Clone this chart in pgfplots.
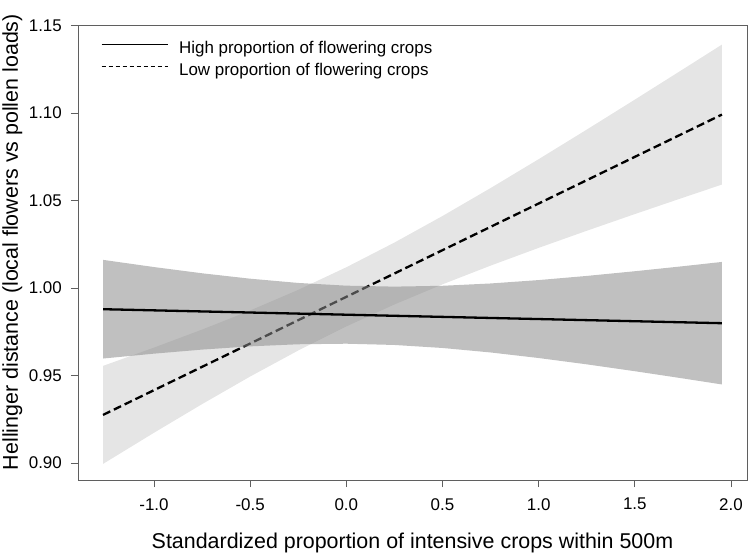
\documentclass[border=0pt]{standalone}
\usepackage{pgfplots}
\pgfplotsset{compat=1.18}
\usepackage{fontspec}
\setmainfont{Liberation Sans}
\definecolor{frame}{RGB}{95,95,95}
\definecolor{lightband}{RGB}{229,229,229}
\definecolor{darkband}{RGB}{140,140,140}
\begin{document}
\begin{tikzpicture}
\begin{axis}[
  scale only axis,
  width=669bp, height=455bp,
  xmin=-1.3952, xmax=2.0832,
  ymin=0.8903, ymax=1.1503,
  xtick={-1,-0.5,0,0.5,1,1.5,2},
  ytick={0.90,0.95,1.00,1.05,1.10,1.15},
  xtick pos=left, ytick pos=left,
  tick align=outside,
  major tick length=7bp,
  axis line style={draw=frame, line width=0.9bp},
  every tick/.style={draw=frame, line width=0.9bp},
  /pgf/number format/assume math mode=true,
  xticklabel style={/pgf/number format/.cd, fixed, fixed zerofill, precision=1, /tikz/.cd, font=\fontsize{17}{20}\selectfont, inner sep=0pt, anchor=north, yshift=-11bp},
  yticklabel style={/pgf/number format/.cd, fixed, fixed zerofill, precision=2, /tikz/.cd, font=\fontsize{17}{20}\selectfont, inner sep=0pt, anchor=east, xshift=-9bp},
  xlabel={Standardized proportion of intensive crops within 500m},
  ylabel={Hellinger distance (local flowers vs pollen loads)},
  xlabel style={font=\fontsize{21.5}{25}\selectfont, at={(axis description cs:0.5,-0.1495)}, anchor=base},
  ylabel style={font=\fontsize{21.5}{25}\selectfont, at={(axis description cs:-0.0897,0.523)}, anchor=base},
  legend style={at={(axis description cs:0.0344,0.9648)}, anchor=north west, draw=none, fill=none, inner sep=0pt,
    font=\fontsize{17}{20}\selectfont,
    nodes={inner sep=0pt, text height=12bp, text depth=4bp},
    row sep=6bp, column sep=11bp},
  legend cell align=left,
  legend image code/.code={\draw[#1] (0bp,5bp) -- (66bp,5bp);},
]
\addlegendimage{black, line width=0.9bp}
\addlegendentry{High proportion of flowering crops}
\addlegendimage{black, line width=0.9bp, dash pattern=on 4bp off 3bp}
\addlegendentry{Low proportion of flowering crops}

% Low proportion: confidence band
\addplot[forget plot, draw=none, fill=lightband] coordinates {
(-1.265,0.95550) (-1.0,0.96596) (-0.75,0.97625) (-0.5,0.98716) (-0.25,0.99895)
(0,1.01186) (0.25,1.02597) (0.5,1.04115) (0.75,1.05712) (1.0,1.07363)
(1.25,1.09052) (1.5,1.10766) (1.75,1.12497) (1.953,1.13911)
(1.953,1.05913) (1.75,1.05161) (1.5,1.04226) (1.25,1.03272) (1.0,1.02295)
(0.75,1.01280) (0.5,1.00211) (0.25,0.99061) (0,0.97806) (-0.25,0.96431)
(-0.5,0.94944) (-0.75,0.93367) (-1.0,0.91730) (-1.265,0.89950)
} -- cycle;
% Low proportion: fit
\addplot[forget plot, black, line width=2.3bp, dash pattern=on 8bp off 4bp] coordinates {
(-1.265,0.92750) (1.953,1.09912)
};
% High proportion: confidence band
\addplot[forget plot, draw=none, fill=darkband, fill opacity=0.55] coordinates {
(-1.265,1.01609) (-1.0,1.01198) (-0.75,1.00842) (-0.5,1.00533) (-0.25,1.00290)
(0,1.00134) (0.25,1.00080) (0.5,1.00128) (0.75,1.00260) (1.0,1.00454)
(1.25,1.00691) (1.5,1.00959) (1.75,1.01246) (1.953,1.01491)
(1.953,0.94489) (1.75,0.94834) (1.5,0.95247) (1.25,0.95639) (1.0,0.96000)
(0.75,0.96318) (0.5,0.96574) (0.25,0.96746) (0,0.96818) (-0.25,0.96786)
(-0.5,0.96667) (-0.75,0.96482) (-1.0,0.96250) (-1.265,0.95971)
} -- cycle;
% High proportion: fit
\addplot[forget plot, black, line width=2.3bp] coordinates {
(-1.265,0.98790) (1.953,0.97990)
};
\coordinate (bl) at (rel axis cs:0,0);
\coordinate (tr) at (rel axis cs:1,1);
\end{axis}
\pgfresetboundingbox
\path ([xshift=-78bp,yshift=-75bp]bl) rectangle ([xshift=3bp,yshift=25bp]tr);
\end{tikzpicture}
\end{document}
